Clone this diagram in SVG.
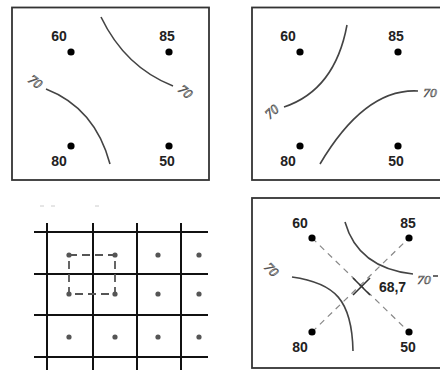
<svg xmlns="http://www.w3.org/2000/svg" width="440" height="370" viewBox="0 0 440 370">
<style>
.frame{fill:#fff;stroke:#333;stroke-width:1.8}
.val{font-family:"Liberation Sans",Arial,sans-serif;font-weight:bold;font-size:14px;fill:#222;text-anchor:middle}
.iso{fill:none;stroke:#444;stroke-width:1.6}
.lab{font-family:"Liberation Serif","Times New Roman",serif;font-style:italic;font-size:13.5px;fill:#fff;stroke:#555;stroke-width:0.7;text-anchor:middle}
.dash{fill:none;stroke:#888;stroke-width:1.2;stroke-dasharray:6,5}
.sq{fill:none;stroke:#555;stroke-width:1.8;stroke-dasharray:8,5}
.grid{stroke:#111;stroke-width:2}
.gd{fill:#555}
</style>
<rect width="440" height="370" fill="#fff"/>

<g id="panel1">
  <rect class="frame" x="12" y="7.5" width="197" height="172.5"/>
  <g id="p1-60"><circle cx="71" cy="52" r="3.6"/><text class="val" x="59" y="41">60</text></g>
  <g id="p1-85"><circle cx="169" cy="52" r="3.6"/><text class="val" x="167" y="41">85</text></g>
  <g id="p1-80"><circle cx="71" cy="146" r="3.6"/><text class="val" x="59" y="166">80</text></g>
  <g id="p1-50"><circle cx="169" cy="146" r="3.6"/><text class="val" x="167" y="166">50</text></g>
  <path class="iso" d="M101,17 Q125,67 173,86"/>
  <path class="iso" d="M46,89 Q95,108 110,164"/>
  <text class="lab" transform="translate(185,92) rotate(40)" y="4">70</text>
  <text class="lab" transform="translate(35,82) rotate(37)" y="4">70</text>
</g>

<g id="panel2">
  <rect class="frame" x="252" y="7.5" width="200" height="172.5"/>
  <g id="p2-60"><circle cx="300" cy="52" r="3.6"/><text class="val" x="288" y="41">60</text></g>
  <g id="p2-85"><circle cx="398" cy="52" r="3.6"/><text class="val" x="396" y="41">85</text></g>
  <g id="p2-80"><circle cx="300" cy="146" r="3.6"/><text class="val" x="288" y="166">80</text></g>
  <g id="p2-50"><circle cx="398" cy="146" r="3.6"/><text class="val" x="396" y="166">50</text></g>
  <path class="iso" d="M347,25 Q335,90 284,107"/>
  <path class="iso" d="M320,164 Q365,88 418,91"/>
  <text class="lab" transform="translate(272,112) rotate(-42)" y="4">70</text>
  <text class="lab" x="430" y="97">70</text>
</g>

<g id="panel3">
  <g stroke="#ccc" stroke-width="1">
    <line x1="40" y1="206" x2="44" y2="206"/><line x1="51" y1="206" x2="55" y2="206"/><line x1="95" y1="206" x2="99" y2="206"/>
  </g>
  <g class="grid">
    <line x1="34" y1="232" x2="208" y2="232"/>
    <line x1="34" y1="274" x2="208" y2="274"/>
    <line x1="34" y1="315" x2="208" y2="315"/>
    <line x1="34" y1="357" x2="208" y2="357"/>
    <line x1="47" y1="223" x2="47" y2="370"/>
    <line x1="93" y1="223" x2="93" y2="370"/>
    <line x1="137" y1="223" x2="137" y2="370"/>
    <line x1="181" y1="223" x2="181" y2="370"/>
  </g>
  <path class="sq" d="M69,255 H115 V294 H69 Z"/>
  <g class="gd">
    <circle cx="69" cy="255" r="2.6"/><circle cx="115" cy="255" r="2.6"/><circle cx="158" cy="255" r="2.6"/><circle cx="199" cy="255" r="2.6"/>
    <circle cx="69" cy="294" r="2.6"/><circle cx="115" cy="294" r="2.6"/><circle cx="158" cy="294" r="2.6"/><circle cx="199" cy="294" r="2.6"/>
    <circle cx="69" cy="337" r="2.6"/><circle cx="115" cy="337" r="2.6"/><circle cx="158" cy="337" r="2.6"/><circle cx="199" cy="337" r="2.6"/>
  </g>
</g>

<g id="panel4">
  <rect class="frame" x="252" y="198" width="200" height="170"/>
  <g id="connectors">
    <line class="dash" x1="312" y1="238" x2="409" y2="332"/>
    <line class="dash" x1="312" y1="332" x2="409" y2="238"/>
  </g>
  <g id="p4-60"><circle cx="312" cy="238" r="3.6"/><text class="val" x="300" y="228">60</text></g>
  <g id="p4-85"><circle cx="409" cy="238" r="3.6"/><text class="val" x="408" y="228">85</text></g>
  <g id="p4-80"><circle cx="312" cy="332" r="3.6"/><text class="val" x="300" y="352">80</text></g>
  <g id="p4-50"><circle cx="409" cy="332" r="3.6"/><text class="val" x="408" y="352">50</text></g>
  <g id="p4-x" stroke="#333" stroke-width="1.6">
    <line x1="353" y1="278" x2="370" y2="295"/><line x1="353" y1="295" x2="370" y2="278"/>
  </g>
  <text class="val" x="392.5" y="292" fill="#333">68,7</text>
  <path class="iso" d="M345,222 Q358,268 413,274"/>
  <line class="iso" x1="433" y1="276" x2="438" y2="276"/>
  <path class="iso" d="M292,277 C335,283 352,300 353,351"/>
  <text class="lab" x="424" y="284">70</text>
  <text class="lab" transform="translate(271,270) rotate(45)" y="4">70</text>
</g>
</svg>
